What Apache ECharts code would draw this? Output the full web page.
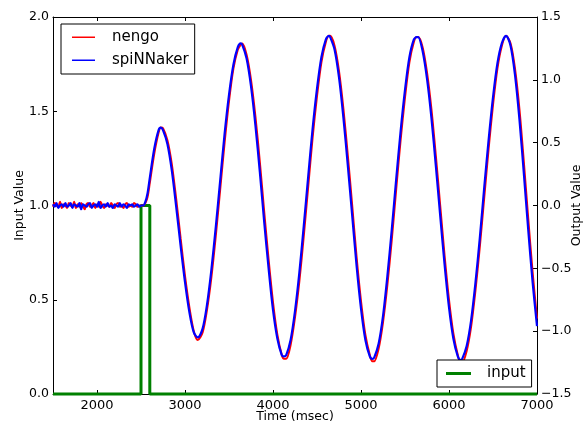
<!DOCTYPE html>
<html>
<head>
<meta charset="utf-8">
<script src="https://cdn.jsdelivr.net/npm/echarts@6/dist/echarts.min.js"></script>
<style>
html,body{margin:0;padding:0;background:#fff;}
#chart{width:587px;height:426px;}
</style>
</head>
<body>
<div id="chart"></div>
<script>
// ---- data ----
var flatTime = [1500,1520,1540,1560,1580,1600,1620,1640,1660,1680,1700,1720,1740,1760,1780,1800,1820,1840,1860,1880,1900,1920,1940,1960,1980,2000,2020,2040,2060,2080,2100,2120,2140,2160,2180,2200,2220,2240,2260,2280,2300,2320,2340,2360,2380,2400,2420,2440,2460,2480];
var spinnakerFlat = [0.01,-0.01,0.02,-0.02,0.00,0.01,-0.01,0.02,-0.01,0.00,0.02,-0.02,0.01,0.00,-0.01,0.02,-0.03,0.01,0.00,-0.01,0.01,0.02,-0.02,0.00,0.01,-0.01,0.03,-0.02,0.00,0.01,-0.01,0.02,-0.01,0.00,-0.02,0.01,0.00,-0.01,0.02,-0.01,0.01,0.00,-0.02,0.01,0.00,0.01,-0.01,0.00,0.01,-0.01];
var nengoFlat = [-0.01,0.02,0.00,-0.01,0.03,-0.02,0.01,0.00,-0.02,0.02,0.00,-0.01,0.03,-0.02,0.01,-0.01,0.02,0.00,-0.03,0.01,0.02,-0.01,0.00,0.02,-0.02,0.01,-0.01,0.03,0.00,-0.02,0.01,0.00,-0.01,0.02,0.00,-0.02,0.01,0.02,-0.01,0.00,-0.02,0.01,0.02,-0.01,0.00,-0.01,0.02,0.01,-0.01,0.00];

var oscTime = [2500,2525,2550,2575,2600,2650,2700,2725,2750,2800,2850,2900,2950,3000,3050,3100,3145,3200,3250,3300,3350,3400,3450,3500,3550,3600,3633,3650,3700,3750,3800,3850,3900,3950,4000,4050,4100,4125,4150,4200,4250,4300,4350,4400,4450,4500,4550,4600,4635,4650,4700,4750,4800,4850,4900,4950,5000,5050,5100,5129,5150,5200,5250,5300,5350,5400,5450,5500,5550,5600,5633,5650,5700,5750,5800,5850,5900,5950,6000,6050,6100,6133,6150,6200,6250,6300,6350,6400,6450,6500,6550,6600,6648,6700,6750,6800,6850,6900,6950,7000];
var spinnakerOsc = [0.00,0.00,0.03,0.10,0.22,0.45,0.60,0.62,0.60,0.49,0.28,-0.01,-0.32,-0.61,-0.85,-1.01,-1.05,-0.98,-0.79,-0.51,-0.17,0.20,0.57,0.88,1.12,1.26,1.29,1.28,1.17,0.95,0.64,0.27,-0.13,-0.50,-0.83,-1.06,-1.19,-1.20,-1.19,-1.07,-0.84,-0.53,-0.16,0.23,0.61,0.93,1.18,1.32,1.35,1.34,1.24,1.02,0.70,0.32,-0.08,-0.48,-0.82,-1.07,-1.20,-1.22,-1.21,-1.10,-0.88,-0.56,-0.19,0.21,0.59,0.92,1.18,1.32,1.34,1.34,1.23,1.01,0.70,0.32,-0.08,-0.47,-0.81,-1.06,-1.20,-1.23,-1.22,-1.12,-0.92,-0.62,-0.26,0.14,0.52,0.86,1.13,1.29,1.35,1.27,1.04,0.69,0.26,-0.19,-0.61,-0.96];
var nengoOsc = [0.00,0.00,0.02,0.07,0.18,0.41,0.58,0.62,0.615,0.52,0.33,0.05,-0.26,-0.56,-0.81,-1.00,-1.07,-1.01,-0.83,-0.57,-0.24,0.13,0.50,0.83,1.09,1.24,1.28,1.29,1.20,1.00,0.71,0.35,-0.05,-0.43,-0.77,-1.03,-1.19,-1.22,-1.22,-1.11,-0.89,-0.60,-0.24,0.15,0.54,0.87,1.14,1.30,1.35,1.35,1.27,1.07,0.77,0.40,0.00,-0.41,-0.76,-1.03,-1.19,-1.24,-1.24,-1.14,-0.93,-0.63,-0.27,0.13,0.52,0.86,1.14,1.30,1.34,1.34,1.26,1.06,0.77,0.40,0.00,-0.40,-0.75,-1.02,-1.19,-1.25,-1.25,-1.16,-0.97,-0.68,-0.33,0.06,0.45,0.80,1.09,1.27,1.35,1.29,1.09,0.77,0.35,-0.10,-0.53,-0.90];

var inputTime = [1500,2500,2500,2600,2600,7000];
var inputValue = [0,0,1,1,0,0];

var xTicks = [2000,3000,4000,5000,6000,7000];

// ---- build series data ----
function zip(t, v){ var out=[]; for(var i=0;i<t.length;i++){ out.push([t[i], v[i]]); } return out; }
var allTime = flatTime.concat(oscTime);
var spinData = zip(allTime, spinnakerFlat.concat(spinnakerOsc));
var nengoData = zip(allTime, nengoFlat.concat(nengoOsc));
var inputData = zip(inputTime, inputValue);

var FONT = 'DejaVu Sans';
var axisLineStyle = {color:'#000', width:1};
function fmtMinus(v){ return (v<0?'\u2212':'') + Math.abs(v).toFixed(1); }

// legend line icons (thin bar inside a full-height box)
var thinLineIcon = 'path://M0,0 M0,6 L23,6 L23,7.5 L0,7.5 Z M23,14';
var thickLineIcon = 'path://M0,0 M0,5.5 L25,5.5 L25,8.5 L0,8.5 Z M25,14';

var chart = echarts.init(document.getElementById('chart'), null, {renderer:'canvas'});
chart.setOption({
  backgroundColor:'#fff',
  animation:false,
  textStyle:{fontFamily:FONT, color:'#000'},
  grid:{left:53, right:50, top:17, bottom:32, containLabel:false, outerBoundsMode:'none'},
  legend:[
    {
      data:[{name:'nengo', icon:thinLineIcon},{name:'spiNNaker', icon:thinLineIcon}],
      orient:'vertical', left:61, top:24,
      padding:[6,6,6,11],
      itemWidth:23, itemHeight:14, itemGap:8,
      borderColor:'#000', borderWidth:1, backgroundColor:'#fff',
      textStyle:{fontFamily:FONT, fontSize:15, color:'#000', padding:[0,0,0,12]},
      itemStyle:{borderWidth:0}
    },
    {
      data:[{name:'input', icon:thickLineIcon}],
      orient:'vertical', left:437, top:360,
      padding:[6,6,6,9],
      itemWidth:25, itemHeight:14,
      borderColor:'#000', borderWidth:1, backgroundColor:'#fff',
      textStyle:{fontFamily:FONT, fontSize:15, color:'#000', padding:[0,0,0,11]},
      itemStyle:{borderWidth:0}
    }
  ],
  xAxis:[
    {
      type:'value', min:1500, max:7000, position:'bottom',
      name:'Time (msec)', nameLocation:'middle', nameGap:16, nameMoveOverlap:false,
      nameTextStyle:{fontFamily:FONT, fontSize:12.5, color:'#000'},
      axisLine:{show:true, onZero:false, lineStyle:axisLineStyle},
      axisTick:{show:true, inside:true, length:4, customValues:xTicks, lineStyle:{color:'#000'}},
      axisLabel:{show:true, customValues:xTicks, margin:5, fontFamily:FONT, fontSize:13, color:'#000', formatter:function(v){return String(v);}},
      splitLine:{show:false}
    },
    {
      type:'value', min:1500, max:7000, position:'top',
      axisLine:{show:true, onZero:false, lineStyle:axisLineStyle},
      axisTick:{show:true, inside:true, length:4, customValues:xTicks, lineStyle:{color:'#000'}},
      axisLabel:{show:false},
      splitLine:{show:false}
    }
  ],
  yAxis:[
    {
      type:'value', min:0, max:2, interval:0.5, position:'left',
      name:'Input Value', nameLocation:'middle', nameGap:27, nameRotate:90, nameMoveOverlap:false,
      nameTextStyle:{fontFamily:FONT, fontSize:12.5, color:'#000'},
      axisLine:{show:true, onZero:false, lineStyle:axisLineStyle},
      axisTick:{show:true, inside:true, length:4, lineStyle:{color:'#000'}},
      axisLabel:{margin:4, fontFamily:FONT, fontSize:12.5, color:'#000', formatter:function(v){return v.toFixed(1);}},
      splitLine:{show:false}
    },
    {
      type:'value', min:-1.5, max:1.5, interval:0.5, position:'right',
      name:'Output Value', nameLocation:'middle', nameGap:33, nameRotate:90, nameMoveOverlap:false,
      nameTextStyle:{fontFamily:FONT, fontSize:12.5, color:'#000'},
      axisLine:{show:true, onZero:false, lineStyle:axisLineStyle},
      axisTick:{show:true, inside:true, length:4, lineStyle:{color:'#000'}},
      axisLabel:{margin:4, fontFamily:FONT, fontSize:12.5, color:'#000', formatter:fmtMinus},
      splitLine:{show:false}
    }
  ],
  series:[
    {
      name:'input', type:'line', xAxisIndex:0, yAxisIndex:0,
      data:inputData, symbol:'none', clip:false,
      color:'#008000',
      lineStyle:{color:'#008000', width:3}
    },
    {
      name:'nengo', type:'line', xAxisIndex:0, yAxisIndex:1,
      data:nengoData, symbol:'none', smooth:0.3,
      color:'#ff0000',
      lineStyle:{color:'#ff0000', width:2}
    },
    {
      name:'spiNNaker', type:'line', xAxisIndex:0, yAxisIndex:1,
      data:spinData, symbol:'none', smooth:0.3,
      color:'#0000ff',
      lineStyle:{color:'#0000ff', width:2.2}
    }
  ]
});
</script>
</body>
</html>
